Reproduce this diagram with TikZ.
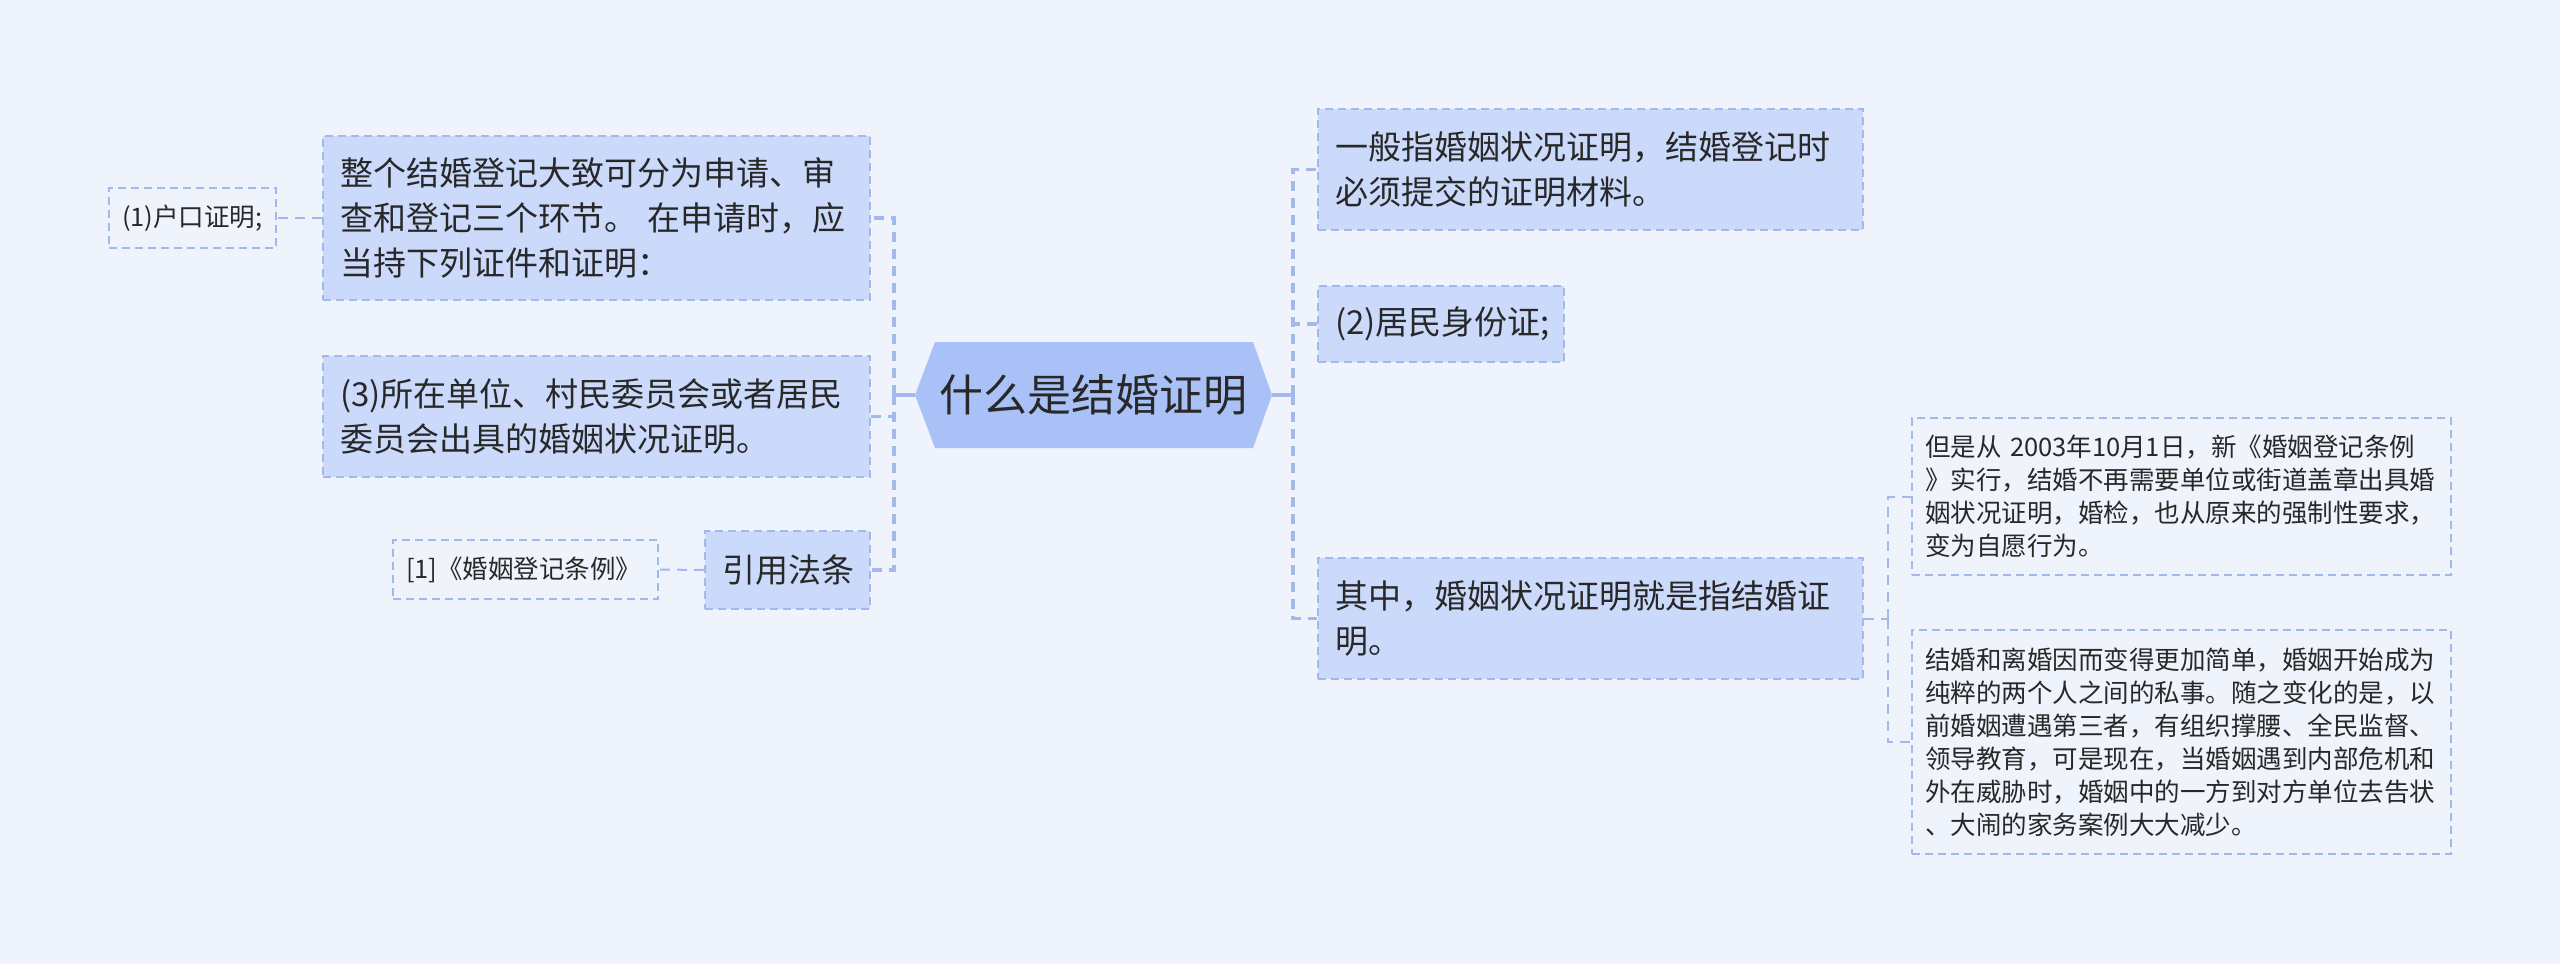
\documentclass[tikz,border=0pt]{standalone}
\usepackage{fontspec}
\setmainfont{Noto Sans CJK SC}
\definecolor{bgcol}{RGB}{239,243,251}
\definecolor{fillcol}{RGB}{203,218,251}
\definecolor{rootcol}{RGB}{169,193,247}
\definecolor{bordercol}{RGB}{163,185,238}
\definecolor{linecol}{RGB}{163,185,238}
\definecolor{txtcol}{RGB}{40,40,40}
\begin{document}
\begin{tikzpicture}[x=1pt,y=-1pt,
  box/.style={draw=bordercol, fill=fillcol, line width=1.8pt, dash pattern=on 8pt off 5pt,
    text=txtcol, align=left, inner xsep=17pt, inner ysep=0pt,
    font=\fontsize{33}{45}\selectfont},
  leaf/.style={draw=bordercol, line width=1.8pt, dash pattern=on 8pt off 5pt,
    text=txtcol, align=left, inner xsep=13pt, inner ysep=0pt,
    font=\fontsize{25.5}{33}\selectfont},
  conn/.style={draw=linecol, line width=3.5pt, dash pattern=on 10pt off 7pt},
  thinconn/.style={draw=linecol, line width=2pt, dash pattern=on 10pt off 7pt},
  stub/.style={draw=linecol, line width=3.5pt},
]
\useasboundingbox[fill=bgcol] (0,0) rectangle (2560,964);

% root hexagon
\fill[rootcol] (915,395) -- (935,342) -- (1253,342) -- (1272,395) -- (1253,448) -- (935,448) -- cycle;
\node[text=txtcol, minimum width=357pt, minimum height=106pt, inner sep=0pt,
  font=\fontsize{44}{50}\selectfont] (root) at (1093.5,395) {什么是结婚证明};

% left nodes
\node[box, text width=513pt, minimum height=164pt] (L1) at (596.5,218)
  {整个结婚登记大致可分为申请、审\\查和登记三个环节。 在申请时，应\\当持下列证件和证明：};
\node[box, text width=513pt, minimum height=121pt] (L2) at (596.5,416.5)
  {(3)所在单位、村民委员会或者居民\\委员会出具的婚姻状况证明。};
\node[box, text width=131pt, minimum height=78pt] (L3) at (787.5,570)
  {引用法条};
\node[leaf, text width=141pt, minimum height=60pt] (LL1) at (192.5,218)
  {(1)户口证明;};
\node[leaf, text width=239pt, minimum height=59pt] (LL3) at (525.5,569.5)
  {[1]《婚姻登记条例》};

% right nodes
\node[box, text width=511pt, minimum height=121pt] (R1) at (1590.5,169.5)
  {一般指婚姻状况证明，结婚登记时\\必须提交的证明材料。};
\node[box, text width=212pt, minimum height=76pt] (R2) at (1441,324)
  {(2)居民身份证;};
\node[box, text width=511pt, minimum height=121pt] (R3) at (1590.5,618.5)
  {其中，婚姻状况证明就是指结婚证\\明。};
\node[leaf, text width=513pt, minimum height=157pt] (RR1) at (2181.5,496.5)
  {但是从 2003年10月1日，新《婚姻登记条例\\》实行，结婚不再需要单位或街道盖章出具婚\\姻状况证明，婚检，也从原来的强制性要求，\\变为自愿行为。};
\node[leaf, text width=513pt, minimum height=224pt] (RR2) at (2181.5,742)
  {结婚和离婚因而变得更加简单，婚姻开始成为\\纯粹的两个人之间的私事。随之变化的是，以\\前婚姻遭遇第三者，有组织撑腰、全民监督、\\领导教育，可是现在，当婚姻遇到内部危机和\\外在威胁时，婚姻中的一方到对方单位去告状\\、大闹的家务案例大大减少。};

% connectors right
\draw[stub] (root.east) -- ++(21,0) coordinate (rj);
\draw[conn] (rj) |- (R1.west);
\draw[conn] (rj) |- (R2.west);
\draw[conn] (rj) |- (R3.west);
% connectors left
\draw[stub] (root.west) -- ++(-21,0) coordinate (lj);
\draw[conn] (lj) |- (L1.east);
\draw[conn] (lj) |- (L2.east);
\draw[conn] (lj) |- (L3.east);
% leaf connectors
\draw[thinconn] (L1.west) -- (LL1.east);
\draw[thinconn] (L3.west) -- (LL3.east);
\draw[thinconn] (R3.east) -- ++(24,0) coordinate (rrj);
\draw[thinconn] (rrj) |- (RR1.west);
\draw[thinconn] (rrj) |- (RR2.west);
\end{tikzpicture}
\end{document}
